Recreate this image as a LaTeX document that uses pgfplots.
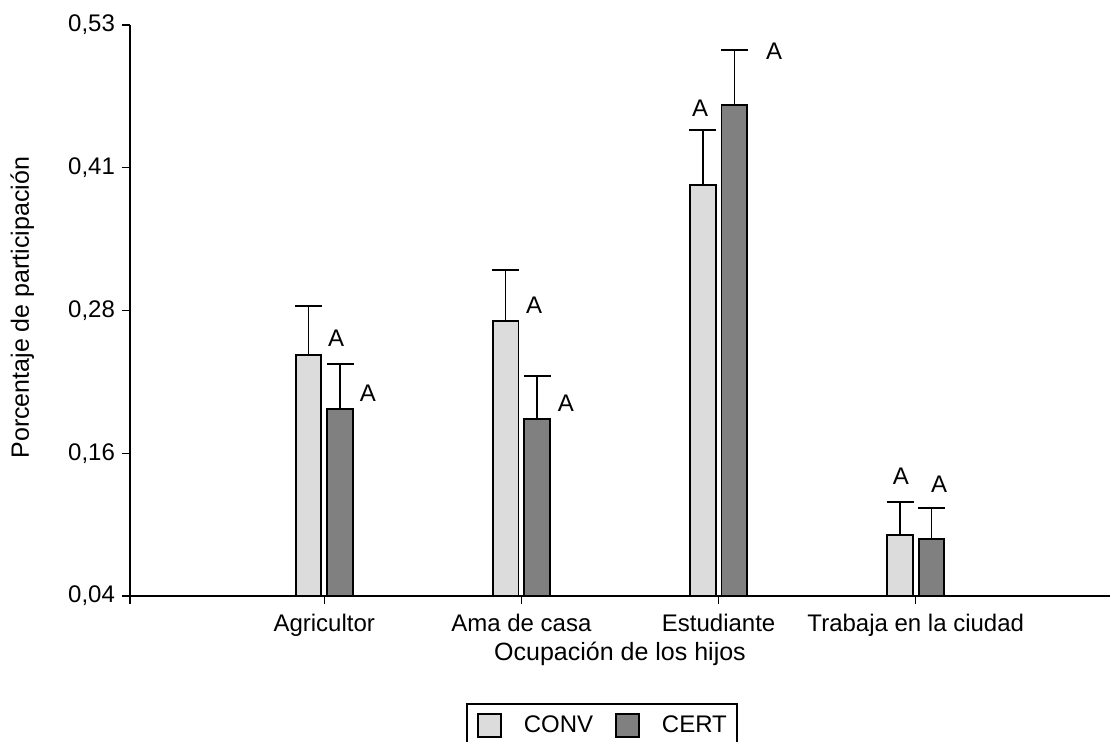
\documentclass[border=0pt]{standalone}
\usepackage{pgfplots}
\pgfplotsset{compat=1.18}
\usepackage{fontspec}
\setmainfont{Liberation Sans}

\definecolor{convgray}{RGB}{220,220,220}
\definecolor{certgray}{RGB}{128,128,128}

\begin{document}
\begin{tikzpicture}[font=\fontsize{12}{14}\selectfont]
\begin{axis}[
  at={(0,0)}, anchor=south west, name=ax,
  scale only axis, width=490pt, height=285.5pt,
  xmin=-0.985, xmax=3.985, ymin=0.04, ymax=0.53,
  axis x line*=bottom, axis y line*=left,
  axis line style={line width=0.9pt, black},
  tick align=outside, major tick length=4pt,
  tick style={line width=0.7pt, black},
  xtick={-0.985,0,1,2,3},
  xticklabels={,Agricultor,Ama de casa,Estudiante,Trabaja en la ciudad},
  xticklabel style={yshift=-1.5pt},
  ytick={0.04,0.1625,0.285,0.4075,0.53},
  yticklabels={{0,04},{0,16},{0,28},{0,41},{0,53}},
  xlabel={Ocupación de los hijos},
  ylabel={Porcentaje de participación},
  xlabel style={at={(axis description cs:0.5,-0.1138)}, anchor=base, font=\fontsize{12.5}{14}\selectfont},
  ylabel style={at={(axis description cs:-0.1031,0.505)}, anchor=base, font=\fontsize{12.5}{14}\selectfont},
  legend columns=2,
  legend style={at={(axis description cs:0.4816,0)}, anchor=north, yshift=-53.5pt,
    draw=black, line width=0.9pt, inner xsep=5pt, inner ysep=4pt,
    /tikz/every even column/.append style={column sep=11pt},
    /tikz/every odd column/.append style={column sep=11pt},
    nodes={inner xsep=0pt, inner ysep=2pt}},
  error bars/error bar style={black, line width=0.8pt, solid},
  error bars/error mark options={rotate=90, black, line width=0.9pt, mark size=6.75pt},
  bar width=0.13,
]
% CONV: means with the upper half of the error interval
\addplot[ybar, bar shift=0, fill=convgray, draw=black, line width=0.9pt,
  legend image code/.code={\draw[fill=convgray, draw=black, line width=0.9pt] (0pt,-5.75pt) rectangle (11.5pt,5.75pt);},
  error bars/.cd, y dir=plus, y explicit]
  coordinates {
    (-0.08,0.2468) +- (0,0.0423)
    (0.92,0.2763) +- (0,0.0435)
    (1.92,0.3927) +- (0,0.0472)
    (2.92,0.0923) +- (0,0.0286)
  };
\addlegendentry{CONV}
% CERT
\addplot[ybar, bar shift=0, fill=certgray, draw=black, line width=0.9pt,
  legend image code/.code={\draw[fill=certgray, draw=black, line width=0.9pt] (0pt,-5.75pt) rectangle (11.5pt,5.75pt);},
  error bars/.cd, y dir=plus, y explicit]
  coordinates {
    (0.08,0.2005) +- (0,0.0386)
    (1.08,0.1919) +- (0,0.0371)
    (2.08,0.4613) +- (0,0.0472)
    (3.08,0.0889) +- (0,0.0269)
  };
\addlegendentry{CERT\hspace{11pt}}
% significance letters
\node at (axis cs:0.060,0.2614) {A};
\node at (axis cs:0.222,0.2142) {A};
\node at (axis cs:1.064,0.2897) {A};
\node at (axis cs:1.226,0.2056) {A};
\node at (axis cs:1.906,0.4588) {A};
\node at (axis cs:2.281,0.5074) {A};
\node at (axis cs:2.925,0.1430) {A};
\node at (axis cs:3.118,0.1361) {A};
\end{axis}
\pgfresetboundingbox
\path[use as bounding box] (-65pt,-73pt) rectangle (491pt,298pt);
\end{tikzpicture}
\end{document}
